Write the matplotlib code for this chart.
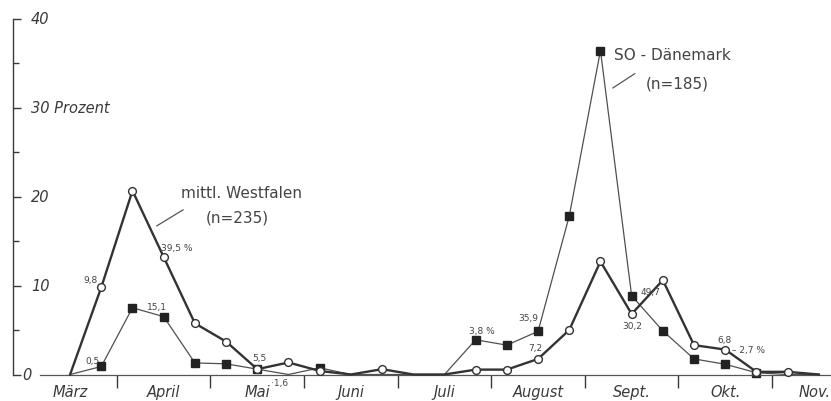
import numpy as np
import matplotlib.pyplot as plt
from matplotlib.transforms import blended_transform_factory

# ---------------- DATA ---------------- #
# one value per dekad, index 0 = mid-March ... 24 = mid-November
westfalen = [0, 9.8, 20.65, 13.2, 5.75, 3.7, 0.6, 1.35, 0.4, 0, 0.6, 0, 0,
             0.55, 0.55, 1.75, 5.0, 12.7, 6.8, 10.6, 3.3, 2.8, 0.3, 0.3, 0]
daenemark = [0, 0.9, 7.5, 6.5, 1.3, 1.2, 0.6, 0, 0.75, 0, 0, 0, 0,
             3.9, 3.3, 4.85, 17.8, 36.4, 8.85, 4.9, 1.75, 1.15, 0.2, 0, 0]

months = ["März", "April", "Mai", "Juni", "Juli", "August", "Sept.", "Okt.", "Nov."]
yticks = [0, 10, 20, 30, 40]
ytick_labels = ["0", "10", "20", "30 Prozent", "40"]

# (series, index, text, dx px, dy px)
notes = [
    ("w", 1, "9,8", -11, 8),
    ("d", 1, "0,5", -9, 6),
    ("d", 3, "15,1", -7, 10),
    ("w", 3, "39,5 %", 13, 10),
    ("w", 6, "5,5", 2, 12),
    ("w", 6, "·1,6", 22, -13),
    ("d", 13, "3,8 %", 6, 9),
    ("d", 15, "35,9", -10, 14),
    ("w", 15, "7,2", -3, 11),
    ("d", 18, "49,7", 19, 4),
    ("w", 18, "30,2", 1, -12),
    ("w", 21, "6,8", -1, 10),
    ("w", 21, "– 2,7 %", 23, 0),
]

x = np.arange(len(westfalen))
INK = "#3a3a3a"
TXT = "#444444"

# ---------------- FIGURE ---------------- #
fig = plt.figure(figsize=(8.31, 4.02), dpi=100)
ax = fig.add_axes([13 / 831, 26.5 / 402, 818 / 831, 356 / 402])
ax.set_xlim(-1.83, 24.39)
ax.set_ylim(0, 40)

w_marks = [i for i, v in enumerate(westfalen) if v > 0]
d_marks = [i for i, v in enumerate(daenemark) if v > 0]

ax.plot(x, daenemark, color="#505050", lw=0.9, marker="s", ms=5.6,
        mfc="#222222", mec="#222222", markevery=d_marks, clip_on=False, zorder=2)
ax.plot(x, westfalen, color="#333333", lw=1.7, marker="o", ms=5.6,
        mfc="white", mec="#333333", mew=1.0, markevery=w_marks,
        clip_on=False, zorder=3)

# ---------------- AXES ---------------- #
for side in ["top", "right"]:
    ax.spines[side].set_visible(False)
ax.spines["left"].set_color(INK)
ax.spines["bottom"].set_color("#555555")
ax.spines["left"].set_linewidth(1.0)
ax.spines["bottom"].set_linewidth(0.9)
ax.spines["bottom"].set_bounds(-0.96, 24.39)

ax.set_yticks(yticks)
ax.set_yticks([5, 15, 25, 35], minor=True)
ax.tick_params(axis="y", which="major", direction="in", length=6, width=1,
               color=INK, labelleft=False)
ax.tick_params(axis="y", which="minor", direction="in", length=4, width=1,
               color=INK)

ytrans = blended_transform_factory(ax.transAxes, ax.transData)
for val, lab in zip(yticks, ytick_labels):
    xpos = 0.011 if val == 0 else 0.022
    ax.text(xpos, val, lab, transform=ytrans, ha="left", va="center",
            fontsize=10.5, style="italic", color=INK)

# month boundaries as ticks, month names centred between them
ax.set_xticks(np.arange(1.5, 24, 3))
ax.set_xticklabels([])
ax.tick_params(axis="x", which="major", direction="out", length=9, width=1,
               color=INK)

xtrans = blended_transform_factory(ax.transData, ax.transAxes)
for k, name in enumerate(months):
    if k == len(months) - 1:
        # last month name sits flush against the right edge
        ax.text(1.0, -0.048, name, transform=ax.transAxes, ha="right",
                va="center", fontsize=10.5, style="italic", color=INK)
    else:
        ax.text(k * 3, -0.048, name, transform=xtrans, ha="center",
                va="center", fontsize=10.5, style="italic", color=INK)

# ---------------- LABELS ---------------- #
for ser, i, txt, dx, dy in notes:
    yv = westfalen[i] if ser == "w" else daenemark[i]
    ax.annotate(txt, (x[i], yv), xytext=(dx * 0.72, dy * 0.72),
                textcoords="offset points", ha="center", va="center",
                fontsize=6.5, color=TXT)

ax.text(5.48, 20.5, "mittl. Westfalen", fontsize=11, color=TXT,
        ha="center", va="center")
ax.text(5.35, 17.7, "(n=235)", fontsize=11, color=TXT,
        ha="center", va="center")
ax.plot([2.78, 3.62], [16.7, 18.5], color="#555555", lw=0.9)

ax.text(19.3, 35.9, "SO - Dänemark", fontsize=11, color=TXT,
        ha="center", va="center")
ax.text(19.45, 32.8, "(n=185)", fontsize=11, color=TXT,
        ha="center", va="center")
ax.plot([17.4, 18.1], [32.2, 33.8], color="#555555", lw=0.9)

fig.savefig("out.png", dpi=100, facecolor="white")
